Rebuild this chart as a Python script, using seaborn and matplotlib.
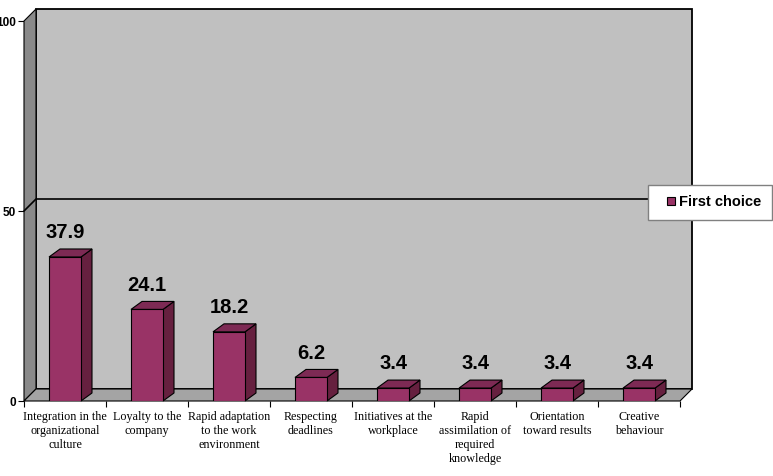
import matplotlib
matplotlib.use("Agg")
import matplotlib.pyplot as plt
import seaborn as sns
import pandas as pd
import numpy as np
from matplotlib.patches import Polygon
from matplotlib.lines import Line2D

# data
categories = ["Integration in the\norganizational\nculture", "Loyalty to the\ncompany",
              "Rapid adaptation\nto the work\nenvironment", "Respecting\ndeadlines",
              "Initiatives at the\nworkplace", "Rapid\nassimilation of\nrequired\nknowledge",
              "Orientation\ntoward results", "Creative\nbehaviour"]
values = [37.9, 24.1, 18.2, 6.2, 3.4, 3.4, 3.4, 3.4]
yticks = [0, 50, 100]
series_name = "First choice"

barColor = '#993366'
sideColor = '#66203f'
topColor = '#7d2a54'

sns.set_style("white")
plt.rcParams['font.family'] = ['Liberation Sans', 'DejaVu Sans']
plt.rcParams['text.color'] = 'black'
plt.rcParams['xtick.color'] = 'black'
plt.rcParams['ytick.color'] = 'black'

W, H = 773, 476
fig = plt.figure(figsize=(W / 100, H / 100), dpi=100)
ax = fig.add_axes([24 / W, 75 / H, 656 / W, 380 / H])
ax.patch.set_visible(False)

df = pd.DataFrame({'cat': categories, 'val': values})
sns.barplot(data=df, x='cat', y='val', color=barColor, saturation=1, width=0.39,
            edgecolor='black', linewidth=0.8, ax=ax, zorder=5)
bars = list(ax.patches)

xmin, xmax = -0.5, len(categories) - 0.5
ax.set_xlim(xmin, xmax)
ax.set_ylim(0, 100)
ax.set_xlabel('')
ax.set_ylabel('')
for s in ax.spines.values():
    s.set_visible(False)

inv = fig.transFigure.inverted()


def pts(coords, off=(0, 0)):
    # data -> pixels, shifted back in depth, -> figure fraction
    disp = ax.transData.transform(coords) + np.array(off)
    return inv.transform(disp)


def add_face(verts, color, z, lw=0.8):
    ax.add_patch(Polygon(verts, closed=True, facecolor=color, edgecolor='black',
                         linewidth=lw, transform=fig.transFigure, clip_on=False, zorder=z))


wall = (12, 12)
# back wall, left wall, floor
front_rect = [(xmin, 0), (xmax, 0), (xmax, 100), (xmin, 100)]
add_face(pts(front_rect, wall), '#c0c0c0', 0, lw=1.3)
add_face(np.vstack([pts([(xmin, 0), (xmin, 100)]), pts([(xmin, 100), (xmin, 0)], wall)]), '#8a8a8a', 1)
add_face(np.vstack([pts([(xmin, 0), (xmax, 0)]), pts([(xmax, 0), (xmin, 0)], wall)]), '#a4a4a4', 1)

# gridline at 50
g = np.vstack([pts([(xmin, 50)]), pts([(xmin, 50), (xmax, 50)], wall)])
ax.plot(g[:, 0], g[:, 1], color='black', lw=1.2, transform=fig.transFigure, clip_on=False, zorder=2)

# 3d sides and tops of the bars
depth = (11, 8)
for p in bars:
    x0 = p.get_x()
    x1 = x0 + p.get_width()
    h = p.get_height()
    add_face(np.vstack([pts([(x1, 0), (x1, h)]), pts([(x1, h), (x1, 0)], depth)]), sideColor, 4)
    add_face(np.vstack([pts([(x0, h), (x1, h)]), pts([(x1, h), (x0, h)], depth)]), topColor, 4)

# value labels
for i, v in enumerate(values):
    ax.text(i, v + 6.4, f"{v}", ha='center', va='center', fontsize=14.5, fontweight='bold', zorder=6)

# ticks
ax.set_xticks(np.arange(xmin, xmax + 0.5, 1))
ax.set_xticklabels([])
ax.set_xticks(range(len(categories)), minor=True)
ax.set_xticklabels(categories, minor=True, family=['Liberation Serif'], fontsize=8.7, linespacing=1.25)
ax.tick_params(axis='x', which='major', direction='out', length=4, width=0.8, bottom=True)
ax.tick_params(axis='x', which='minor', length=0, pad=7)
ax.set_yticks(yticks)
ax.set_yticklabels([str(t) for t in yticks], fontsize=8.5, fontweight='bold')
ax.tick_params(axis='y', direction='out', length=4, width=0.8, pad=1.5, left=True)

handles = [Line2D([], [], marker='s', linestyle='none', markersize=6, markerfacecolor=barColor,
                  markeredgecolor='black', markeredgewidth=0.8, label=series_name)]
leg = ax.legend(handles=handles, loc='center left', bbox_to_anchor=(648 / W, (H - 202.5) / H),
                bbox_transform=fig.transFigure, frameon=True, fancybox=False, framealpha=1,
                edgecolor='#808080', prop={'weight': 'bold', 'size': 10.5},
                handlelength=1.8, handletextpad=-0.35, borderpad=0.7, borderaxespad=0)
leg.set_zorder(10)

fig.savefig('out.png', dpi=100)
